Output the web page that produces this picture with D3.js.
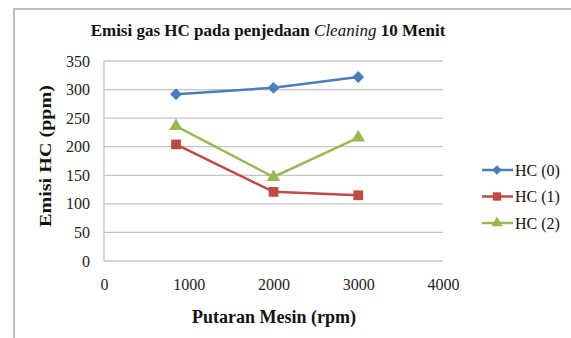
<!DOCTYPE html>
<html><head><meta charset="utf-8">
<script src="https://cdn.jsdelivr.net/npm/d3@7"></script>
<style>body{margin:0;background:#fff}svg{display:block}</style>
</head><body>
<svg id="c" width="571" height="338"></svg>
<script>
const rpm = [850, 2000, 3000];
const hc0 = [292, 303, 322];
const hc1 = [204, 121, 115];
const hc2 = [236, 147, 216];
const seriesNames = ["HC (0)", "HC (1)", "HC (2)"];
const yTicks = [0, 50, 100, 150, 200, 250, 300, 350];
const xTicks = [0, 1000, 2000, 3000, 4000];
const colors = ["#4a7ebb", "#be4b48", "#98b954"];
const symbols = [d3.symbolDiamond2, d3.symbolSquare, d3.symbolTriangle];

const svg = d3.select("#c");
const font = "'Liberation Serif','Times New Roman',serif";
svg.append("rect").attr("width",571).attr("height",338).attr("fill","#fff");
// frame
svg.append("path").attr("d","M14,340 V9 H575").attr("fill","none").attr("stroke","#bdbdbd").attr("stroke-width",2);

const x = d3.scaleLinear().domain([0,4000]).range([104,443]);
const y = d3.scaleLinear().domain([0,350]).range([261,61]);

// gridlines
svg.append("g").selectAll("line").data(yTicks).join("line")
  .attr("x1",104).attr("x2",443).attr("y1",d=>y(d)).attr("y2",d=>y(d))
  .attr("stroke","#c4c4c4").attr("stroke-width",1.3);
svg.append("line").attr("x1",104).attr("x2",104).attr("y1",61).attr("y2",261)
  .attr("stroke","#c4c4c4").attr("stroke-width",1.3);

// axes tick labels via d3 axes
const ya = svg.append("g").attr("transform","translate(104,0)")
  .call(d3.axisLeft(y).tickValues(yTicks).tickSize(0).tickPadding(14));
ya.select(".domain").remove();
ya.selectAll("text").attr("font-family",font).attr("font-size",16).attr("fill","#222");
const xa = svg.append("g").attr("transform","translate(0,261)")
  .call(d3.axisBottom(x).tickValues(xTicks).tickFormat(d3.format("d")).tickSize(0).tickPadding(18));
xa.select(".domain").remove();
xa.selectAll("text").attr("font-family",font).attr("font-size",16).attr("fill","#222");

// series
const data = [hc0, hc1, hc2];
const line = d3.line().x((d,i)=>x(rpm[i])).y(d=>y(d));
data.forEach((s,k)=>{
  svg.append("path").datum(s).attr("d",line).attr("fill","none")
    .attr("stroke",colors[k]).attr("stroke-width",2.5);
  svg.append("g").selectAll("path").data(s).join("path")
    .attr("transform",(d,i)=>`translate(${x(rpm[i])},${y(d)})`)
    .attr("d",d3.symbol().type(symbols[k]).size(k===0?90:(k===1?95:80)))
    .attr("fill",colors[k]);
});

// title
const t = svg.append("text").attr("x",268).attr("y",36).attr("text-anchor","middle")
  .attr("font-family",font).attr("font-size",17).attr("font-weight","bold").attr("fill","#111");
t.append("tspan").text("Emisi gas HC pada penjedaan ");
t.append("tspan").attr("font-style","italic").attr("font-weight","normal").text("Cleaning");
t.append("tspan").text(" 10 Menit");

// axis titles
svg.append("text").attr("transform","translate(51,156) rotate(-90)").attr("text-anchor","middle")
  .attr("font-family",font).attr("font-size",17).attr("font-weight","bold").attr("fill","#111")
  .attr("textLength",142).attr("lengthAdjust","spacingAndGlyphs")
  .text("Emisi HC (ppm)");
svg.append("text").attr("x",274).attr("y",323).attr("text-anchor","middle")
  .attr("font-family",font).attr("font-size",18).attr("font-weight","bold").attr("fill","#111")
  .text("Putaran Mesin (rpm)");

// legend
const lg = svg.append("g");
seriesNames.forEach((n,k)=>{
  const yy = 170 + k*26.5;
  lg.append("line").attr("x1",482).attr("x2",513).attr("y1",yy).attr("y2",yy)
    .attr("stroke",colors[k]).attr("stroke-width",2.5);
  lg.append("path").attr("transform",`translate(497,${yy})`)
    .attr("d",d3.symbol().type(symbols[k]).size(k===0?60:(k===1?70:55))).attr("fill",colors[k]);
  lg.append("text").attr("x",515).attr("y",yy+5.5).attr("font-family",font).attr("font-size",16)
    .attr("fill","#111").text(n);
});
</script>
</body></html>
